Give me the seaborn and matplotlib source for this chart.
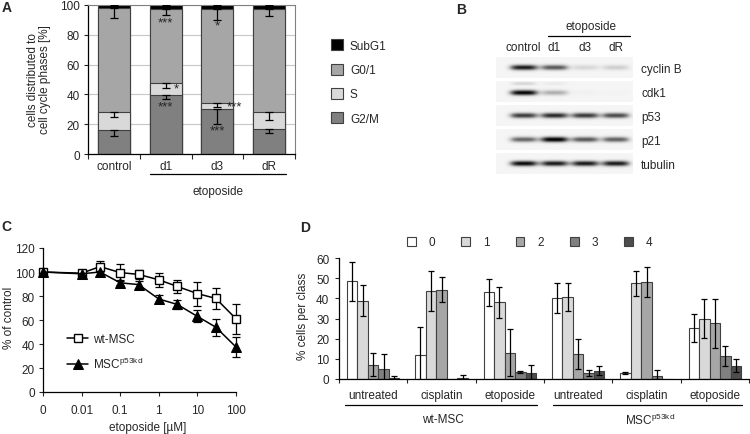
import numpy as np
import pandas as pd
import matplotlib
matplotlib.use("Agg")
import matplotlib.pyplot as plt
from matplotlib.patches import Patch
import seaborn as sns

# ---------------- A: cell cycle phases (% of cells, stacked) ----------------
cc_samples = ["control", "d1", "d3", "dR"]
cc_phases = ["SubG1", "G0/1", "S", "G2/M"]
g2m = [16.3, 39.8, 30.2, 16.8]
s_phase = [11.7, 7.6, 4.0, 11.6]
g01 = [70.0, 49.9, 63.1, 69.0]
subg1 = [2.0, 2.7, 2.7, 2.6]
g2m_err = [4.2, 3.0, 10.0, 2.9]
s_err = [3.4, 3.4, 2.5, 5.4]
g01_err = [6.7, 3.8, 7.3, 4.9]
subg1_err = [0.8, 0.8, 0.8, 0.8]
# significance marks: (sample, y, text, x shift)
cc_stars = [("d1", 88, "***", 0), ("d1", 44, "*", 0.15), ("d1", 32, "***", 0),
            ("d3", 86, "*", 0), ("d3", 32, "***", 0.18), ("d3", 16, "***", 0)]

# ---------------- B: western blot band intensities (0..1) ----------------
blot_lanes = ["control", "d1", "d3", "dR"]
blot_proteins = ["cyclin B", "cdk1", "p53", "p21", "tubulin"]
band_cyclin_b = [0.85, 0.65, 0.18, 0.22]
band_cdk1 = [0.92, 0.35, 0.04, 0.02]
band_cdk1_upper = [0.2, 0.08, 0.0, 0.0]
band_p53 = [0.75, 0.8, 0.75, 0.7]
band_p21 = [0.6, 0.95, 0.65, 0.62]
band_tubulin = [0.9, 0.85, 0.85, 0.85]

# ---------------- C: viability vs etoposide ----------------
eto_conc = [0, 0.01, 0.03, 0.1, 0.3, 1, 3, 10, 30, 100]
eto_ticks = ["0", "0.01", "0.1", "1", "10", "100"]
wt_msc = [100, 99, 104.5, 99.5, 98, 93.5, 88, 82, 78, 61]
wt_msc_err = [1, 1.5, 4.5, 7, 4, 6, 5.5, 10, 8.5, 12.5]
kd_msc = [100, 98.5, 100, 91, 89.5, 77.5, 73, 63, 54, 37.5]
kd_msc_err = [1, 1.5, 3, 2, 3, 3, 3.5, 5, 7, 8]

# ---------------- D: % cells per class ----------------
cell_lines = ["wt-MSC", "MSC$^{\\mathregular{p53kd}}$"]
treatments = ["untreated", "cisplatin", "etoposide"]
classes = ["0", "1", "2", "3", "4"]
class_0 = [48.4, 12.0, 43.0, 40.2, 3.1, 25.3]
class_1 = [38.8, 43.5, 38.0, 40.5, 47.4, 29.8]
class_2 = [7.0, 44.3, 13.0, 12.4, 48.3, 27.6]
class_3 = [5.1, 0.0, 3.6, 3.1, 1.7, 11.2]
class_4 = [0.5, 0.5, 3.1, 4.1, 0.0, 6.6]
class_0_err = [9.7, 13.6, 6.7, 7.4, 0.6, 6.8]
class_1_err = [7.6, 10.0, 7.8, 7.0, 6.0, 9.7]
class_2_err = [5.7, 6.2, 11.6, 7.3, 7.4, 12.3]
class_3_err = [7.5, 0.0, 0.6, 1.5, 3.0, 5.0]
class_4_err = [1.0, 1.3, 3.9, 2.2, 0.0, 3.3]

FS = 8.5
sns.set_style("ticks")
plt.rcParams["font.family"] = ["Liberation Sans", "DejaVu Sans"]
plt.rcParams["mathtext.fontset"] = "custom"
plt.rcParams["mathtext.rm"] = "Liberation Sans"
plt.rcParams["font.size"] = FS

W, H = 750, 435
fig = plt.figure(figsize=(7.5, 4.35), dpi=100)


def box(left, top, right, bottom):
    return [left / W, 1 - bottom / H, (right - left) / W, (bottom - top) / H]


def ftext(x, y, s, **kw):
    fig.text(x / W, 1 - y / H, s, **kw)


EDGE = "#404040"
ERR = dict(fmt="none", ecolor="black", elinewidth=0.9, capthick=0.9)

# ======================= A =======================
ax_a = fig.add_axes(box(88, 6, 295, 155))
phase_colors = {"SubG1": "black", "G0/1": "#a6a6a6", "S": "#d9d9d9", "G2/M": "#808080"}
stack = {"G2/M": g2m, "S": s_phase, "G0/1": g01, "SubG1": subg1}
stack_err = {"G2/M": g2m_err, "S": s_err, "G0/1": g01_err, "SubG1": subg1_err}
tops = dict(zip(stack, np.cumsum(list(stack.values()), axis=0)))
for phase in cc_phases:
    sns.barplot(x=cc_samples, y=tops[phase], color=phase_colors[phase], width=0.62,
                saturation=1, edgecolor=EDGE, linewidth=0.8, ax=ax_a)
for phase in cc_phases:
    err = stack_err[phase]
    ax_a.errorbar(range(len(cc_samples)), tops[phase], yerr=[err, np.zeros(len(err))],
                  capsize=3, zorder=5, **ERR)
for sample, y, txt, dx in cc_stars:
    ax_a.text(cc_samples.index(sample) + dx, y, txt, ha="center" if dx == 0 else "left",
              va="center", fontsize=9.5, zorder=6)
ax_a.set_xlim(-0.5, 3.5)
ax_a.set_ylim(0, 100)
ax_a.set_yticks(range(0, 101, 20))
ax_a.set_xticks(range(4))
ax_a.set_xticklabels(cc_samples)
ax_a.set_xticks(np.arange(-0.5, 4, 1), minor=True)
ax_a.tick_params(axis="x", which="major", length=0, pad=4, labelsize=FS)
ax_a.tick_params(axis="x", which="minor", length=3.5, width=0.8)
ax_a.tick_params(axis="y", length=3, width=0.8, pad=3, labelsize=FS)
ax_a.yaxis.grid(True, color="#c8c8c8", linewidth=0.8)
ax_a.set_axisbelow(True)
for side in ["top", "right"]:
    ax_a.spines[side].set_color("#808080")
for side in ["left", "bottom"]:
    ax_a.spines[side].set_color("black")
    ax_a.spines[side].set_linewidth(0.9)
ax_a.set_xlabel("")
ax_a.set_ylabel("")
xt = ax_a.get_xaxis_transform()
ax_a.plot([0.7, 3.33], [-0.134, -0.134], transform=xt, clip_on=False, color="black", lw=0.9)
ax_a.text(2.01, -0.245, "etoposide", transform=xt, ha="center", va="center", fontsize=FS)
handles = [Patch(facecolor=phase_colors[p], edgecolor=EDGE, linewidth=0.8) for p in cc_phases]
ax_a.legend(handles, cc_phases, loc="upper left", bbox_to_anchor=(1.174, 0.77), frameon=False,
            handlelength=1.05, handleheight=1.05, handletextpad=0.55, labelspacing=1.0,
            borderpad=0, borderaxespad=0, fontsize=FS)
ftext(39, 80, "cells distributed to\ncell cycle phases [%]", rotation=90, ha="center",
      va="center", fontsize=FS, linespacing=1.1)

# ======================= B =======================
ax_b = fig.add_axes(box(496, 57, 633, 177))
xs = np.linspace(-0.9, 3.55, 180)
ys = np.linspace(-0.43, 0.43, 40)
rows = [(band_cyclin_b, 0.0), (band_cdk1, 0.05), (band_p53, 0.0), (band_p21, 0.0),
        (band_tubulin, 0.0)]
for r, (levels, yc) in enumerate(rows):
    dark = np.full((ys.size, xs.size), 0.08)
    for lane, lev in enumerate(levels):
        dark += lev * np.exp(-((ys[:, None] - yc) / 0.12) ** 2) * \
            np.exp(-np.abs((xs[None, :] - lane) / 0.46) ** 4)
    if r == 1:
        for lane, lev in enumerate(band_cdk1_upper):
            dark += lev * np.exp(-((ys[:, None] + 0.33) / 0.07) ** 2) * \
                np.exp(-np.abs((xs[None, :] - lane) / 0.42) ** 4)
    ax_b.imshow(np.clip(dark, 0, 1), cmap="Greys", vmin=0, vmax=1, aspect="auto",
                extent=(-0.9, 3.55, r + 0.43, r - 0.43), interpolation="bilinear")
ax_b.set_xlim(-0.9, 3.55)
ax_b.set_ylim(4.5, -0.5)
for sp in ax_b.spines.values():
    sp.set_visible(False)
ax_b.xaxis.tick_top()
ax_b.set_xticks(range(4))
ax_b.set_xticklabels(blot_lanes)
ax_b.yaxis.tick_right()
ax_b.set_yticks(range(5))
ax_b.set_yticklabels(blot_proteins)
ax_b.tick_params(length=0, labelsize=FS)
ax_b.tick_params(axis="x", pad=2.5)
ax_b.tick_params(axis="y", pad=6)
xt = ax_b.get_xaxis_transform()
ax_b.plot([0.78, 3.45], [1.167, 1.167], transform=xt, clip_on=False, color="black", lw=0.9)
ax_b.text(2.2, 1.25, "etoposide", transform=xt, ha="center", va="center", fontsize=FS)

# ======================= C =======================
ax_c = fig.add_axes(box(43, 249, 236, 393))
xpos = [0 if c == 0 else np.log10(c) + 3 for c in eto_conc]
ax_c.errorbar(xpos, wt_msc, yerr=wt_msc_err, capsize=3, zorder=2, clip_on=False, **ERR)
ax_c.errorbar(xpos, kd_msc, yerr=kd_msc_err, capsize=3, zorder=2, clip_on=False, **ERR)
sns.lineplot(x=xpos, y=wt_msc, color="black", marker="s", markersize=6, markerfacecolor="white",
             markeredgecolor="black", markeredgewidth=1, linewidth=1.1, label="wt-MSC",
             clip_on=False, zorder=3, ax=ax_c)
sns.lineplot(x=xpos, y=kd_msc, color="black", marker="^", markersize=7.5,
             markerfacecolor="black", markeredgecolor="black", linewidth=1.1,
             label=cell_lines[1], clip_on=False, zorder=3, ax=ax_c)
ax_c.set_xlim(0, 5)
ax_c.set_ylim(0, 120)
ax_c.set_xticks(range(6))
ax_c.set_xticklabels(eto_ticks)
ax_c.set_yticks(range(0, 121, 20))
ax_c.tick_params(axis="x", length=3, width=0.8, pad=6, labelsize=FS)
ax_c.tick_params(axis="y", length=3, width=0.8, pad=3, labelsize=FS)
sns.despine(ax=ax_c)
for side in ["left", "bottom"]:
    ax_c.spines[side].set_color("black")
    ax_c.spines[side].set_linewidth(0.9)
h, l = ax_c.get_legend_handles_labels()
ax_c.legend(h, l, loc="upper left", bbox_to_anchor=(0.124, 0.41), frameon=False,
            handlelength=1.8, handletextpad=0.4, labelspacing=0.95, borderpad=0,
            borderaxespad=0, fontsize=FS)
ftext(9, 318, "% of control", rotation=90, ha="center", va="center", fontsize=FS)
ftext(148, 428, "etoposide [µM]", ha="center", va="center", fontsize=FS)

# ======================= D =======================
ax_d = fig.add_axes(box(339, 259, 749, 380))
group_keys = [f"{line}|{t}" for line in cell_lines for t in treatments]
class_vals = [class_0, class_1, class_2, class_3, class_4]
class_errs = [class_0_err, class_1_err, class_2_err, class_3_err, class_4_err]
df = pd.DataFrame([{"group": g, "cls": c, "pct": v}
                   for c, vals in zip(classes, class_vals) for g, v in zip(group_keys, vals)])
class_colors = ["white", "#d9d9d9", "#a6a6a6", "#808080", "#4d4d4d"]
sns.barplot(data=df, x="group", y="pct", hue="cls", palette=class_colors, width=0.77, gap=0,
            saturation=1, edgecolor=EDGE, linewidth=0.8, errorbar=None, ax=ax_d)
for cont, errs in zip(ax_d.containers, class_errs):
    for bar, e in zip(cont, errs):
        if e > 0:
            ax_d.errorbar(bar.get_x() + bar.get_width() / 2, bar.get_height(), yerr=e,
                          capsize=2.5, zorder=5, **ERR)
ax_d.set_xlim(-0.5, 5.5)
ax_d.set_ylim(0, 60)
ax_d.set_yticks(range(0, 61, 10))
ax_d.set_xticks(range(6))
ax_d.set_xticklabels(treatments * 2)
ax_d.set_xticks(np.arange(-0.5, 6, 1), minor=True)
ax_d.tick_params(axis="x", which="major", length=0, pad=7.5, labelsize=FS)
ax_d.tick_params(axis="x", which="minor", length=3, width=0.8)
ax_d.tick_params(axis="y", length=3, width=0.8, pad=4, labelsize=FS)
sns.despine(ax=ax_d)
for side in ["left", "bottom"]:
    ax_d.spines[side].set_color("black")
    ax_d.spines[side].set_linewidth(0.9)
ax_d.set_xlabel("")
ax_d.set_ylabel("")
xt = ax_d.get_xaxis_transform()
ax_d.plot([-0.41, 2.4], [-0.215, -0.215], transform=xt, clip_on=False, color="black", lw=0.9)
ax_d.plot([2.63, 5.4], [-0.215, -0.215], transform=xt, clip_on=False, color="black", lw=0.9)
ax_d.text(1.02, -0.33, cell_lines[0], transform=xt, ha="center", va="center", fontsize=FS)
ax_d.text(4.05, -0.33, cell_lines[1], transform=xt, ha="center", va="center", fontsize=FS)
h, l = ax_d.get_legend_handles_labels()
ax_d.legend(h, l, ncol=5, loc="lower left", bbox_to_anchor=(0.165, 1.08), frameon=False,
            handlelength=0.75, handleheight=0.75, handletextpad=1.1, columnspacing=2.2,
            borderpad=0, borderaxespad=0, fontsize=FS)
ftext(303, 316, "% cells per class", rotation=90, ha="center", va="center", fontsize=FS)

# panel letters
for x, y, s in [(7, 8, "A"), (461, 10, "B"), (6, 227, "C"), (305, 228, "D")]:
    ftext(x, y, s, ha="center", va="center", fontsize=10, fontweight="bold")

fig.savefig("out.png", dpi=100)
